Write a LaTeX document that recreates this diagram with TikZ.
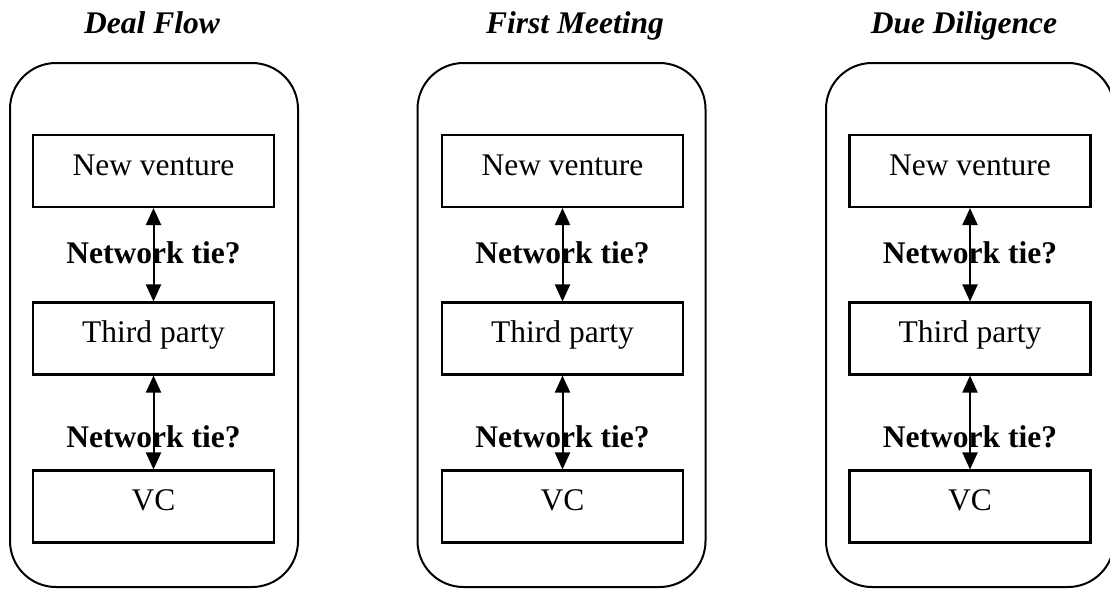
\documentclass[tikz,border=0pt]{standalone}
\usepackage{fontspec}
\setmainfont{Liberation Serif}
\usetikzlibrary{arrows.meta}
\tikzset{
  frame/.style={draw, line width=2pt, rounded corners=46pt, minimum width=288pt, minimum height=524pt, inner sep=0pt},
  stagebox/.style={draw, line width=2.1pt, minimum width=241pt, minimum height=72pt, inner sep=0pt, text height=20pt, text depth=12pt, font=\fontsize{31.5}{36}\selectfont},
  tie/.style={font=\fontsize{31.5}{36}\selectfont\bfseries, anchor=base, inner sep=0pt},
  stitle/.style={font=\fontsize{31.5}{36}\selectfont\bfseries\itshape, anchor=base, inner sep=0pt},
  link/.style={line width=2pt, {Triangle[width=15pt,length=17pt]}-{Triangle[width=15pt,length=17pt]}},
}
\begin{document}
\begin{tikzpicture}[x=1pt,y=-1pt]
\useasboundingbox (0,0) rectangle (1110,589);
\foreach \i/\fx/\bx/\tx/\ttl in {1/154/153.5/152/Deal Flow, 2/561.5/562.5/575/First Meeting, 3/970/970/964/Due Diligence}{
  \node[frame] (fr\i) at (\fx,325) {};
  \node[stitle] (ti\i) at (\tx,33) {\ttl};
  \node[stagebox] (nv\i) at (\bx,171) {New venture};
  \node[stagebox] (tp\i) at (\bx,338.5) {Third party};
  \node[stagebox] (vc\i) at (\bx,506.5) {VC};
  \node[tie] (ta\i) at (\bx,263) {Network tie?};
  \node[tie] (tb\i) at (\bx,447) {Network tie?};
  \draw[link] (nv\i.south) -- (tp\i.north);
  \draw[link] (tp\i.south) -- (vc\i.north);
}
\end{tikzpicture}
\end{document}
